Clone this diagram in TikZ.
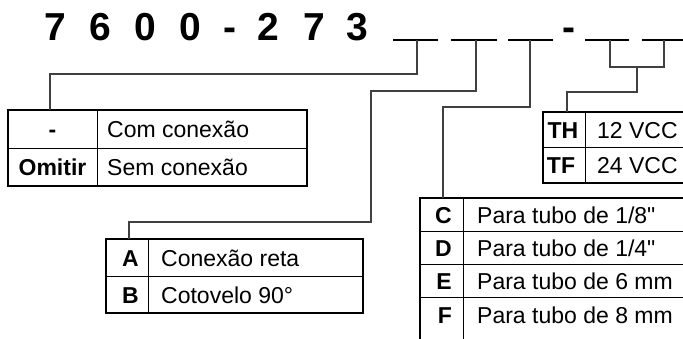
\documentclass[tikz,border=0pt]{standalone}
\usepackage{fontspec}
\setmainfont{Liberation Sans}
\usetikzlibrary{calc}
\tikzset{
  wire/.style={draw=black!75, line width=1.2pt},
  blankline/.style={line width=1.5pt},
  framebox/.style={line width=2.4pt},
  gridline/.style={line width=0.9pt},
  codechar/.style={font=\fontsize{39}{39}\selectfont\bfseries, anchor=base, inner sep=0pt},
  keytxt/.style={font=\fontsize{23}{23}\selectfont\bfseries, inner sep=0pt},
  valtxt/.style={font=\fontsize{23}{23}\selectfont, anchor=base west, inner sep=0pt}
}
\newcommand{\codech}[3]{\node[codechar] (#1) at (#2,40) {#3};}
\newcommand{\blank}[4]{\draw[blankline] (#2,40) -- (#3,40); \coordinate (#1) at (#4,40);}
\newcommand{\tabframe}[4]{\draw[framebox] (#1,#2) rectangle (#3,#4);}
\newcommand{\tabrow}[7][base]{\node[keytxt,anchor=#1] (k#2) at (#3,#5) {#6};
  \node[valtxt] (v#2) at (#4,#5) {#7};}

\begin{document}
\begin{tikzpicture}[x=1pt,y=-1pt]
        \useasboundingbox (0,0) rectangle (683,338);
        \clip (0,0) rectangle (683,338);

        % code
        \codech{c1}{55}{7}
        \codech{c2}{100}{6}
        \codech{c3}{145}{0}
        \codech{c4}{190}{0}
        \codech{c5}{230}{-}
        \codech{c6}{268}{2}
        \codech{c7}{314}{7}
        \codech{c8}{357}{3}

        \blank{b1}{393}{438}{417}
        \blank{b2}{451}{497}{476}
        \blank{b3}{508}{553}{530}
        \codech{c9}{569}{-}
        \blank{b4}{585}{629}{610}
        \blank{b5}{642}{690}{664}

        % connexion table
        \draw[gridline] (97,110) -- (97,186);
        \draw[gridline] (8,148) -- (307,148);
        \tabframe{8}{110}{307}{186}
        \tabrow{com}{52.5}{107}{137.5}{-}{Com conexão}
        \tabrow{sem}{52.5}{107}{175.5}{Omitir}{Sem conexão}
        \coordinate (t1) at (50,110);

        % voltage table
        \draw[gridline] (585,112) -- (585,183);
        \draw[gridline] (543,147) -- (700,147);
        \tabframe{543}{112}{700}{183}
        \tabrow{th}{563}{597}{138}{TH}{12 VCC}
        \tabrow{tf}{561}{597}{173}{TF}{24 VCC}
        \coordinate (tT) at (567,112);

        % fitting table
        \draw[gridline] (148,239) -- (148,313);
        \draw[gridline] (106,276) -- (363,276);
        \tabframe{106}{239}{363}{313}
        \tabrow[base east]{a}{139}{161}{266}{A}{Conexão reta}
        \tabrow[base east]{b}{139}{161}{303}{B}{Cotovelo 90°}
        \coordinate (tA) at (129,239);

        % tube table
        \draw[gridline] (463,198) -- (463,345);
        \draw[gridline] (420,231) -- (700,231);
        \draw[gridline] (420,264) -- (700,264);
        \draw[gridline] (420,297) -- (700,297);
        \tabframe{420}{198}{700}{345}
        \tabrow[base east]{c}{452}{477}{223}{C}{Para tubo de 1/8\textquotedbl}
        \tabrow[base east]{d}{452}{477}{256}{D}{Para tubo de 1/4\textquotedbl}
        \tabrow[base east]{e}{452}{477}{289}{E}{Para tubo de 6 mm}
        \tabrow[base east]{f}{452}{477}{323}{F}{Para tubo de 8 mm}
        \coordinate (tC) at (443,198);

        % connectors
        \draw[wire] (b1) -- ++(0,34) -| (t1);
        \draw[wire] (b2) |- (371,91) -- (371,222) -| (tA);
        \draw[wire] (b3) -- ++(0,67) -| (tC);
        \coordinate (fork) at (637,67);
        \draw[wire] (b4) |- (fork) -| (b5);
        \draw[wire] (fork) -- ++(0,25) -| (tT);

    \end{tikzpicture}
\end{document}
